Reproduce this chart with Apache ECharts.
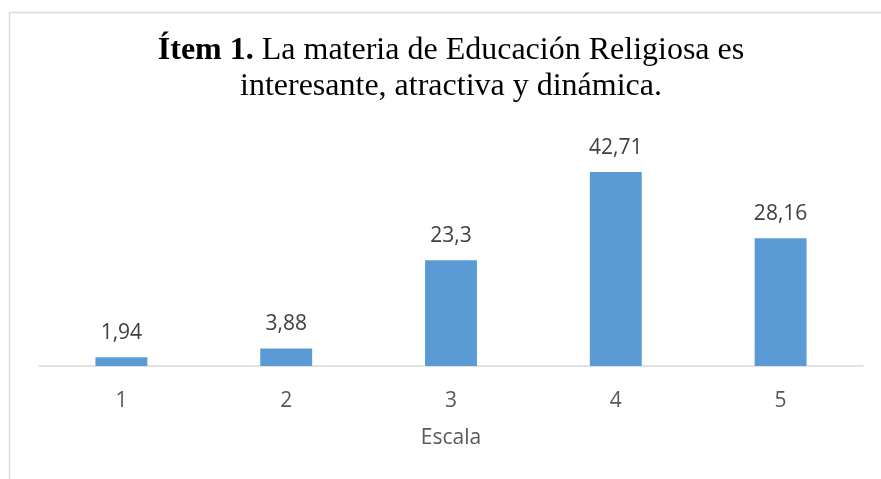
<!DOCTYPE html>
<html>
<head>
<meta charset="utf-8">
<script src="https://cdn.jsdelivr.net/npm/echarts@6/dist/echarts.min.js"></script>
<style>
  html, body { margin: 0; padding: 0; background: #fff; }
  #chart { width: 881px; height: 479px; }
</style>
</head>
<body>
<div id="chart"></div>
<script>
// datos
const categories = ['1', '2', '3', '4', '5'];
const values = [1.94, 3.88, 23.3, 42.71, 28.16];
const labels = ['1,94', '3,88', '23,3', '42,71', '28,16'];

const chart = echarts.init(document.getElementById('chart'));

const titleFont = { fontFamily: 'Liberation Serif', fontSize: 32, color: '#000', lineHeight: 36, align: 'center' };

const option = {
  backgroundColor: '#fff',
  animation: false,
  grid: { left: 39, right: 18, top: 139, bottom: 113 },
  xAxis: {
    type: 'category',
    data: categories,
    axisLine: { lineStyle: { color: '#d9d9d9', width: 1.5 } },
    axisTick: { show: false },
    axisLabel: { color: '#595959', fontFamily: 'Open Sans', fontSize: 21, margin: 25 },
    name: 'Escala',
    nameLocation: 'middle',
    nameGap: 62,
    nameTextStyle: { color: '#595959', fontFamily: 'Open Sans', fontSize: 21 }
  },
  yAxis: {
    type: 'value',
    min: 0,
    max: 50,
    show: false
  },
  series: [
    {
      type: 'bar',
      data: values,
      barWidth: '31.5%',
      itemStyle: { color: '#5b9bd5' },
      label: {
        show: true,
        position: 'top',
        distance: 14,
        color: '#404040',
        fontFamily: 'Open Sans',
        fontSize: 21,
        formatter: (p) => labels[p.dataIndex]
      }
    }
  ],
  graphic: [
    { type: 'line', shape: { x1: 9.5, y1: 12, x2: 9.5, y2: 479 }, style: { stroke: '#d9d9d9', lineWidth: 1.5 } },
    { type: 'line', shape: { x1: 9, y1: 12.5, x2: 881, y2: 12.5 }, style: { stroke: '#d9d9d9', lineWidth: 1.5 } },
    {
      type: 'text',
      x: 451,
      y: 33,
      style: {
        text: '{b|Ítem 1.}{n| La materia de Educación Religiosa es}\n{n|interesante, atractiva y dinámica.}',
        align: 'center',
        verticalAlign: 'top',
        rich: {
          b: Object.assign({}, titleFont, { fontWeight: 'bold' }),
          n: Object.assign({}, titleFont, { fontWeight: 'normal' })
        }
      }
    }
  ]
};

chart.setOption(option);
</script>
</body>
</html>
